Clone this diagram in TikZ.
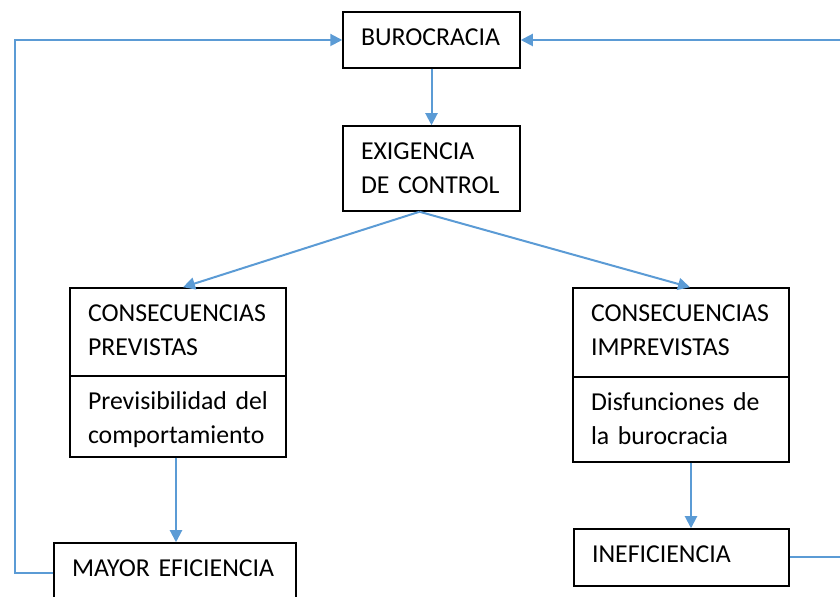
\documentclass[tikz,border=0pt]{standalone}
\usepackage{fontspec}
\setmainfont{Carlito}
\usepackage{xcolor}
\usepackage{tikz}
\usetikzlibrary{arrows.meta}

\definecolor{flowblue}{HTML}{5B9BD5}

\tikzset{
  box/.style={draw=black, line width=0.75pt, inner xsep=9pt, inner ysep=0pt,
    align=left, text height=17pt, font=\fontsize{12.9}{17}\selectfont},
  flow/.style={draw=flowblue, line width=1pt, -{Triangle[width=6pt,length=6pt]}},
}

\begin{document}
\begin{tikzpicture}[x=0.5pt,y=-0.5pt]
	\useasboundingbox (0,0) rectangle (840,597);
	\clip (0,0) rectangle (840,597);
	\node [box, minimum width=88.5pt, text depth=11pt, text width=70.5pt] (buro) at (431.5,40) {BUROCRACIA};
	\node [box, minimum width=88.5pt, text depth=25.5pt, text width=70.5pt] (exig) at (431.5,168.5) {EXIGENCIA\\DE CONTROL};
	\node [box, minimum width=108pt, text depth=27pt, text width=90pt] (prevA) at (178,332) {CONSECUENCIAS\\PREVISTAS};
	\node [box, minimum width=108pt, text depth=23.5pt, text width=90pt] (prevB) at (178,416.5) {Previsibilidad del\\comportamiento};
	\node [box, minimum width=108pt, text depth=27.5pt, text width=90pt] (imprevA) at (681,332.5) {CONSECUENCIAS\\IMPREVISTAS};
	\node [box, minimum width=108pt, text depth=25.5pt, text width=90pt] (imprevB) at (681,419.5) {Disfunciones de\\la burocracia};
	\node [box, minimum width=121pt, text depth=13pt, text width=103pt] (mayor) at (175,573) {MAYOR EFICIENCIA};
	\node [box, minimum width=107.5pt, text depth=11.5pt, text width=89.5pt] (inef) at (681.5,557.5) {INEFICIENCIA};
	\coordinate (lft) at (15,40);
	\coordinate (rgt) at (848,40);
	\draw [flow] (buro) -- (exig);
	\draw [flow] ([xshift=-6pt]exig.south) -- ([xshift=2.5pt]prevA.north);
	\draw [flow] ([xshift=-6pt]exig.south) -- ([xshift=4.5pt]imprevA.north);
	\draw [flow] ([xshift=-1pt]prevB.south) -- ([xshift=-1pt]prevB.south |- mayor.north);
	\draw [flow] ([xshift=5pt]imprevB.south) -- ([xshift=5pt]imprevB.south |- inef.north);
	\draw [flow] (mayor.west) -| (lft) -- (buro.west);
	\draw [flow] (inef.east) -| (rgt) -- (buro.east);
\end{tikzpicture}
\end{document}
